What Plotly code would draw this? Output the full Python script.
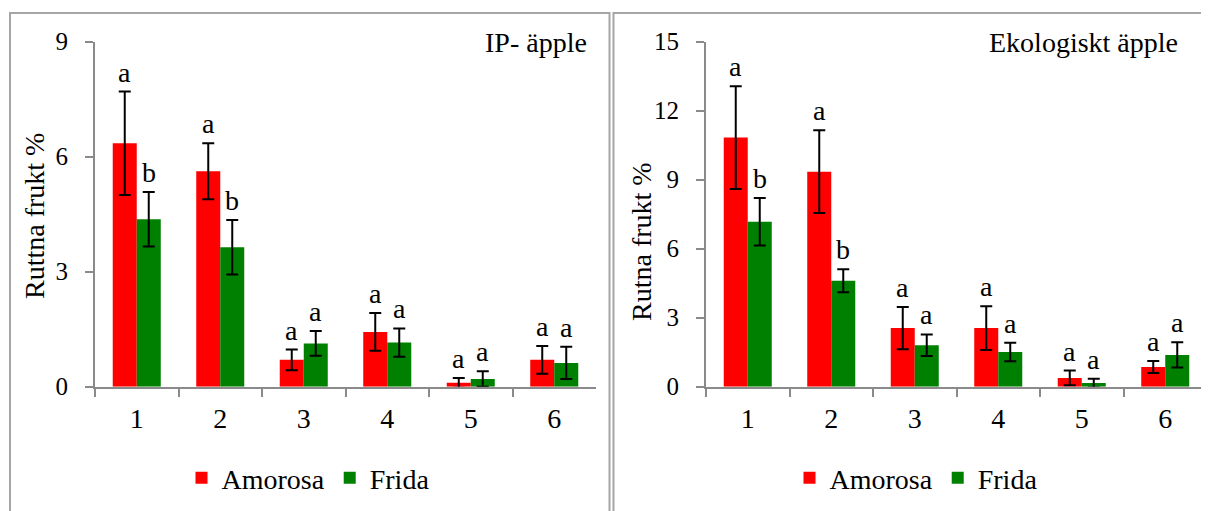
import plotly.graph_objects as go

W, H = 1209, 511
OFF = 8  # page body margin of the browser

categories = ["1", "2", "3", "4", "5", "6"]
series_names = ["Amorosa", "Frida"]

ip_amorosa = [6.35, 5.62, 0.70, 1.43, 0.10, 0.70]
ip_amorosa_err = [1.35, 0.73, 0.27, 0.49, 0.13, 0.36]
ip_frida = [4.37, 3.64, 1.13, 1.15, 0.20, 0.62]
ip_frida_err = [0.71, 0.71, 0.32, 0.37, 0.20, 0.42]

eko_amorosa = [10.83, 9.35, 2.55, 2.55, 0.38, 0.86]
eko_amorosa_err = [2.23, 1.80, 0.92, 0.95, 0.32, 0.26]
eko_frida = [7.17, 4.61, 1.80, 1.51, 0.16, 1.38]
eko_frida_err = [1.03, 0.50, 0.47, 0.40, 0.19, 0.55]

ip_amorosa_letters = ["a", "a", "a", "a", "a", "a"]
ip_frida_letters = ["b", "b", "a", "a", "a", "a"]
eko_amorosa_letters = ["a", "a", "a", "a", "a", "a"]
eko_frida_letters = ["b", "b", "a", "a", "a", "a"]

ip_ticks = [0, 3, 6, 9]
eko_ticks = [0, 3, 6, 9, 12, 15]

RED = "#FF0000"
GREEN = "#008000"
FONT = "Liberation Serif"
AXIS_COLOR = "#8a8a8a"
FRAME_COLOR = "#a6a6a6"


def px(x):
    return (x - OFF) / W


def py(y):
    return 1 - (y - OFF) / H


fig = go.Figure()


def add_bars(values, errs, name, color, xa, ya, legend):
    fig.add_trace(go.Bar(
        x=categories, y=values, name=name, marker_color=color,
        marker_line_width=0,
        error_y=dict(type="data", array=errs, visible=True, color="black",
                     thickness=2, width=6),
        xaxis=xa, yaxis=ya, legend=legend,
    ))


add_bars(ip_amorosa, ip_amorosa_err, series_names[0], RED, "x", "y", "legend")
add_bars(ip_frida, ip_frida_err, series_names[1], GREEN, "x", "y", "legend")
add_bars(eko_amorosa, eko_amorosa_err, series_names[0], RED, "x2", "y2", "legend2")
add_bars(eko_frida, eko_frida_err, series_names[1], GREEN, "x2", "y2", "legend2")

annotations = []


def add_letters(values, errs, letters, shift, xref, yref):
    for i, (v, e, t) in enumerate(zip(values, errs, letters)):
        annotations.append(dict(
            x=i, y=v + e, xref=xref, yref=yref, text=t, showarrow=False,
            xshift=shift, yshift=2, yanchor="bottom", xanchor="center",
            font=dict(family=FONT, size=28, color="black"),
        ))


add_letters(ip_amorosa, ip_amorosa_err, ip_amorosa_letters, -12, "x", "y")
add_letters(ip_frida, ip_frida_err, ip_frida_letters, 12, "x", "y")
add_letters(eko_amorosa, eko_amorosa_err, eko_amorosa_letters, -12, "x2", "y2")
add_letters(eko_frida, eko_frida_err, eko_frida_letters, 12, "x2", "y2")

# panel titles
annotations.append(dict(x=px(589), y=py(42), xref="paper", yref="paper",
                        text="IP- äpple", showarrow=False, xanchor="right",
                        yanchor="middle", font=dict(family=FONT, size=28)))
annotations.append(dict(x=px(1180), y=py(42), xref="paper", yref="paper",
                        text="Ekologiskt äpple", showarrow=False, xanchor="right",
                        yanchor="middle", font=dict(family=FONT, size=28)))
# y-axis titles
annotations.append(dict(x=px(34), y=py(216), xref="paper", yref="paper",
                        text="Ruttna frukt %", showarrow=False, textangle=-90,
                        xanchor="center", yanchor="middle",
                        font=dict(family=FONT, size=28)))
annotations.append(dict(x=px(642), y=py(241), xref="paper", yref="paper",
                        text="Rutna frukt %", showarrow=False, textangle=-90,
                        xanchor="center", yanchor="middle",
                        font=dict(family=FONT, size=28)))

xaxis_common = dict(
    type="category", range=[-0.5, 5.5], showline=True, linecolor=AXIS_COLOR,
    linewidth=2, ticks="outside", ticklen=8, tickwidth=2, tickcolor=AXIS_COLOR,
    tickson="boundaries", showgrid=False, zeroline=False, automargin=False,
    tickfont=dict(family=FONT, size=28, color="black"),
    ticklabelstandoff=6, fixedrange=True,
)
yaxis_common = dict(
    showline=True, linecolor=AXIS_COLOR, linewidth=2,
    ticks="outside", ticklen=8, tickwidth=2, tickcolor=AXIS_COLOR,
    showgrid=False, zeroline=False, automargin=False,
    tickfont=dict(family=FONT, size=25, color="black"),
    ticklabelstandoff=12, fixedrange=True,
)

y_dom = [py(386.7), py(41.7)]

fig.update_layout(
    width=W, height=H,
    margin=dict(l=0, r=0, t=0, b=0, pad=0, autoexpand=False),
    paper_bgcolor="white", plot_bgcolor="white",
    font=dict(family=FONT, color="black"),
    barmode="group", bargap=0.425, bargroupgap=0,
    xaxis=dict(domain=[px(95), px(596)], anchor="y", **xaxis_common),
    yaxis=dict(domain=y_dom, anchor="x", range=[0, 9], tickvals=ip_ticks,
               **yaxis_common),
    xaxis2=dict(domain=[px(706), px(1207)], anchor="y2", **xaxis_common),
    yaxis2=dict(domain=y_dom, anchor="x2", range=[0, 15], tickvals=eko_ticks,
                **yaxis_common),
    legend=dict(orientation="h", x=px(308), xanchor="center", y=py(478),
                yanchor="middle", font=dict(family=FONT, size=28),
                bgcolor="rgba(0,0,0,0)"),
    legend2=dict(orientation="h", x=px(916), xanchor="center", y=py(478),
                 yanchor="middle", font=dict(family=FONT, size=28),
                 bgcolor="rgba(0,0,0,0)"),
    annotations=annotations,
    shapes=[
        dict(type="rect", xref="paper", yref="paper", x0=px(10), x1=px(609.5),
             y0=py(540), y1=py(13), line=dict(color=FRAME_COLOR, width=2),
             layer="below"),
        dict(type="rect", xref="paper", yref="paper", x0=px(613.5), x1=px(1250),
             y0=py(540), y1=py(13), line=dict(color=FRAME_COLOR, width=2),
             layer="below"),
    ],
    showlegend=True,
)

fig.write_html("out.html")
